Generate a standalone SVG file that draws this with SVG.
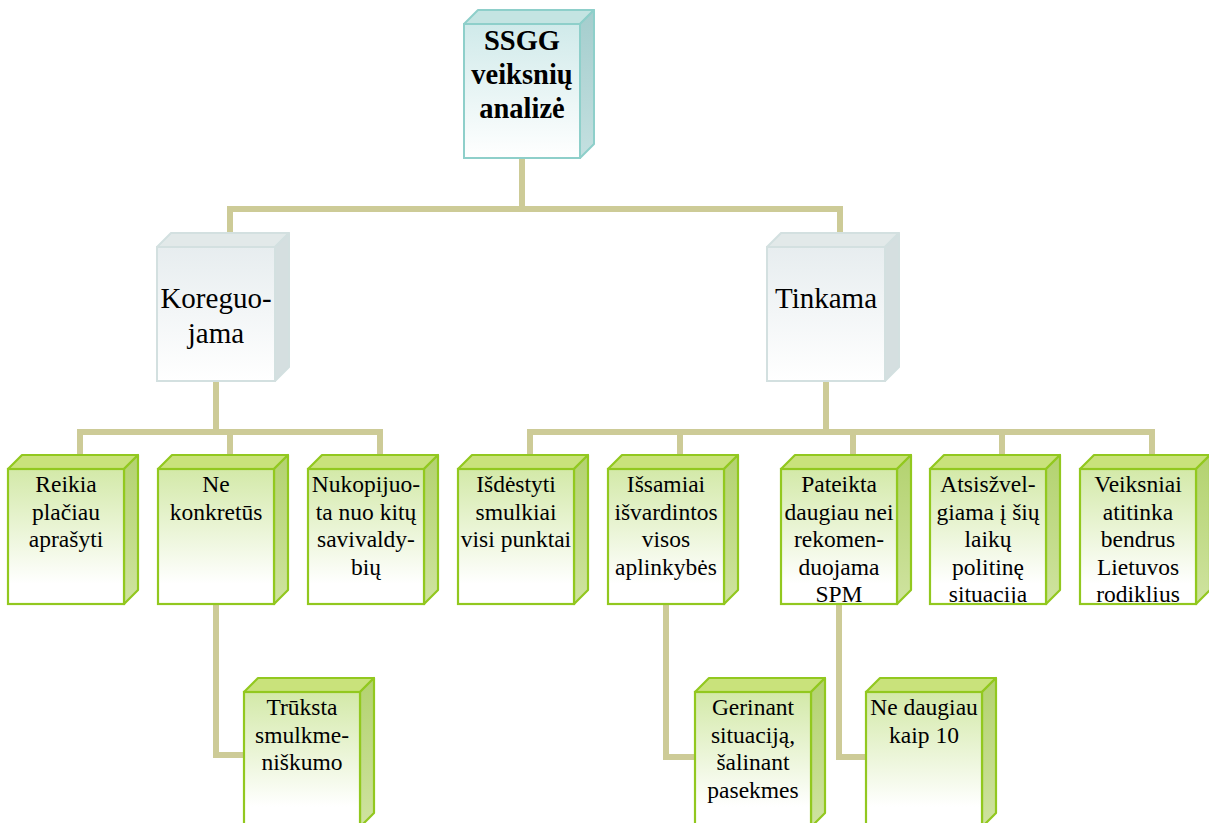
<svg xmlns="http://www.w3.org/2000/svg" width="1209" height="823" viewBox="0 0 1209 823">
  <style>
    .conn { fill: none; stroke: #cdcb97; stroke-width: 6; stroke-linejoin: miter; stroke-linecap: butt; }
    .t { font-family: "Liberation Serif", "Times New Roman", serif; fill: #000; text-anchor: middle; }
    .big { font-size: 29px; }
    .sm { font-size: 23.5px; }
    .title { font-size: 28.5px; font-weight: bold; }
    .teal-front { fill: url(#gTealFront); stroke: #8ecfca; stroke-width: 2; }
    .teal-top { fill: #c4e4e2; stroke: #8ecfca; stroke-width: 2; stroke-linejoin: round; }
    .teal-side { fill: url(#gTealSide); stroke: #8ecfca; stroke-width: 2; stroke-linejoin: round; }
    .gray-front { fill: url(#gGrayFront); stroke: #d3e0e0; stroke-width: 2; }
    .gray-top { fill: #e2e9e9; stroke: #d3e0e0; stroke-width: 2; stroke-linejoin: round; }
    .gray-side { fill: #d5dfe0; stroke: #d3e0e0; stroke-width: 2; stroke-linejoin: round; }
    .green-front { fill: url(#gGreenFront); stroke: #92c81f; stroke-width: 2.2; }
    .green-top { fill: #c9e27b; stroke: #92c81f; stroke-width: 2.2; stroke-linejoin: round; }
    .green-side { fill: url(#gGreenSide); stroke: #92c81f; stroke-width: 2.2; stroke-linejoin: round; }
  </style>
  <defs>
    <linearGradient id="gTealFront" x1="0" y1="0" x2="0" y2="1">
      <stop offset="0" stop-color="#d0eaea"/>
      <stop offset="1" stop-color="#ffffff"/>
    </linearGradient>
    <linearGradient id="gTealSide" x1="0" y1="0" x2="0" y2="1">
      <stop offset="0" stop-color="#a4cdcd"/>
      <stop offset="1" stop-color="#c4e0e0"/>
    </linearGradient>
    <linearGradient id="gGrayFront" x1="0" y1="0" x2="0" y2="1">
      <stop offset="0" stop-color="#e7edef"/>
      <stop offset="1" stop-color="#ffffff"/>
    </linearGradient>
    <linearGradient id="gGreenFront" x1="0" y1="0" x2="0" y2="1">
      <stop offset="0" stop-color="#d3e9a8"/>
      <stop offset="0.85" stop-color="#ffffff"/>
    </linearGradient>
    <linearGradient id="gGreenSide" x1="0" y1="0" x2="0" y2="1">
      <stop offset="0" stop-color="#b3d26f"/>
      <stop offset="1" stop-color="#cfe3a0"/>
    </linearGradient>
    <clipPath id="rowClip">
      <rect x="0" y="0" width="1209" height="603"/>
    </clipPath>
  </defs>

  <!-- connectors -->
  <g id="connectors">
    <path class="conn" d="M522 159 V209 M230 233 V209 H840 V233"/>
    <path class="conn" d="M216 381 V432 M80 455 V432 H380 V455 M230 432 V455"/>
    <path class="conn" d="M826 381 V432 M530 455 V432 H1152 V455 M680 432 V455 M853 432 V455 M1002 432 V455"/>
    <path class="conn" d="M216 604 V755 H244"/>
    <path class="conn" d="M666 604 V757 H695"/>
    <path class="conn" d="M839 604 V757 H866"/>
  </g>

  <!-- root -->
  <g id="node-root">
    <polygon class="teal-top" points="464,24 478,10 594,10 580,24"/>
    <polygon class="teal-side" points="580,24 594,10 594,144 580,158"/>
    <rect class="teal-front" x="464" y="24" width="116" height="134"/>
    <text class="t title" x="522" y="50">SSGG</text>
    <text class="t title" x="522" y="84">veiksnių</text>
    <text class="t title" x="522" y="118">analizė</text>
  </g>

  <!-- second level -->
  <g id="node-koreguojama">
    <polygon class="gray-top" points="157,247 171,233 289,233 275,247"/>
    <polygon class="gray-side" points="275,247 289,233 289,367 275,381"/>
    <rect class="gray-front" x="157" y="247" width="118" height="134"/>
    <text class="t big" x="216" y="308">Koreguo-</text>
    <text class="t big" x="216" y="343">jama</text>
  </g>
  <g id="node-tinkama">
    <polygon class="gray-top" points="767,247 781,233 899,233 885,247"/>
    <polygon class="gray-side" points="885,247 899,233 899,367 885,381"/>
    <rect class="gray-front" x="767" y="247" width="118" height="134"/>
    <text class="t big" x="826" y="308">Tinkama</text>
  </g>

  <!-- third level -->
  <g id="node-reikia">
    <polygon class="green-top" points="8,469 22,455 138,455 124,469"/>
    <polygon class="green-side" points="124,469 138,455 138,590 124,604"/>
    <rect class="green-front" x="8" y="469" width="116" height="135"/>
    <g class="t sm" clip-path="url(#rowClip)">
      <text x="66" y="492">Reikia</text>
      <text x="66" y="519.5">plačiau</text>
      <text x="66" y="547">aprašyti</text>
    </g>
  </g>
  <g id="node-ne-konkretus">
    <polygon class="green-top" points="158,469 172,455 288,455 274,469"/>
    <polygon class="green-side" points="274,469 288,455 288,590 274,604"/>
    <rect class="green-front" x="158" y="469" width="116" height="135"/>
    <g class="t sm" clip-path="url(#rowClip)">
      <text x="216" y="492">Ne</text>
      <text x="216" y="519.5">konkretūs</text>
    </g>
  </g>
  <g id="node-nukopijuota">
    <polygon class="green-top" points="308,469 322,455 438,455 424,469"/>
    <polygon class="green-side" points="424,469 438,455 438,590 424,604"/>
    <rect class="green-front" x="308" y="469" width="116" height="135"/>
    <g class="t sm" clip-path="url(#rowClip)">
      <text x="366" y="492">Nukopijuo-</text>
      <text x="366" y="519.5">ta nuo kitų</text>
      <text x="366" y="547">savivaldy-</text>
      <text x="366" y="574.5">bių</text>
    </g>
  </g>
  <g id="node-isdestyti">
    <polygon class="green-top" points="458,469 472,455 588,455 574,469"/>
    <polygon class="green-side" points="574,469 588,455 588,590 574,604"/>
    <rect class="green-front" x="458" y="469" width="116" height="135"/>
    <g class="t sm" clip-path="url(#rowClip)">
      <text x="516" y="492">Išdėstyti</text>
      <text x="516" y="519.5">smulkiai</text>
      <text x="516" y="547">visi punktai</text>
    </g>
  </g>
  <g id="node-issamiai">
    <polygon class="green-top" points="608,469 622,455 738,455 724,469"/>
    <polygon class="green-side" points="724,469 738,455 738,590 724,604"/>
    <rect class="green-front" x="608" y="469" width="116" height="135"/>
    <g class="t sm" clip-path="url(#rowClip)">
      <text x="666" y="492">Išsamiai</text>
      <text x="666" y="519.5">išvardintos</text>
      <text x="666" y="547">visos</text>
      <text x="666" y="574.5">aplinkybės</text>
    </g>
  </g>
  <g id="node-pateikta">
    <polygon class="green-top" points="781,469 795,455 911,455 897,469"/>
    <polygon class="green-side" points="897,469 911,455 911,590 897,604"/>
    <rect class="green-front" x="781" y="469" width="116" height="135"/>
    <g class="t sm" clip-path="url(#rowClip)">
      <text x="839" y="492">Pateikta</text>
      <text x="839" y="519.5">daugiau nei</text>
      <text x="839" y="547">rekomen-</text>
      <text x="839" y="574.5">duojama</text>
      <text x="839" y="602">SPM</text>
    </g>
  </g>
  <g id="node-atsiszvelgiama">
    <polygon class="green-top" points="930,469 944,455 1060,455 1046,469"/>
    <polygon class="green-side" points="1046,469 1060,455 1060,590 1046,604"/>
    <rect class="green-front" x="930" y="469" width="116" height="135"/>
    <g class="t sm" clip-path="url(#rowClip)">
      <text x="988" y="492">Atsisžvel-</text>
      <text x="988" y="519.5">giama į šių</text>
      <text x="988" y="547">laikų</text>
      <text x="988" y="574.5">politinę</text>
      <text x="988" y="602">situacija</text>
    </g>
  </g>
  <g id="node-veiksniai">
    <polygon class="green-top" points="1080,469 1094,455 1210,455 1196,469"/>
    <polygon class="green-side" points="1196,469 1210,455 1210,590 1196,604"/>
    <rect class="green-front" x="1080" y="469" width="116" height="135"/>
    <g class="t sm" clip-path="url(#rowClip)">
      <text x="1138" y="492">Veiksniai</text>
      <text x="1138" y="519.5">atitinka</text>
      <text x="1138" y="547">bendrus</text>
      <text x="1138" y="574.5">Lietuvos</text>
      <text x="1138" y="602">rodiklius</text>
    </g>
  </g>

  <!-- fourth level -->
  <g id="node-truksta">
    <polygon class="green-top" points="244,692 258,678 374,678 360,692"/>
    <polygon class="green-side" points="360,692 374,678 374,813 360,827"/>
    <rect class="green-front" x="244" y="692" width="116" height="135"/>
    <text class="t sm" x="302" y="715">Trūksta</text>
    <text class="t sm" x="302" y="742.5">smulkme-</text>
    <text class="t sm" x="302" y="770">niškumo</text>
  </g>
  <g id="node-gerinant">
    <polygon class="green-top" points="695,692 709,678 825,678 811,692"/>
    <polygon class="green-side" points="811,692 825,678 825,813 811,827"/>
    <rect class="green-front" x="695" y="692" width="116" height="135"/>
    <text class="t sm" x="753" y="715">Gerinant</text>
    <text class="t sm" x="753" y="742.5">situaciją,</text>
    <text class="t sm" x="753" y="770">šalinant</text>
    <text class="t sm" x="753" y="797.5">pasekmes</text>
  </g>
  <g id="node-ne-daugiau">
    <polygon class="green-top" points="866,692 880,678 996,678 982,692"/>
    <polygon class="green-side" points="982,692 996,678 996,813 982,827"/>
    <rect class="green-front" x="866" y="692" width="116" height="135"/>
    <text class="t sm" x="924" y="715">Ne daugiau</text>
    <text class="t sm" x="924" y="742.5">kaip 10</text>
  </g>
</svg>
